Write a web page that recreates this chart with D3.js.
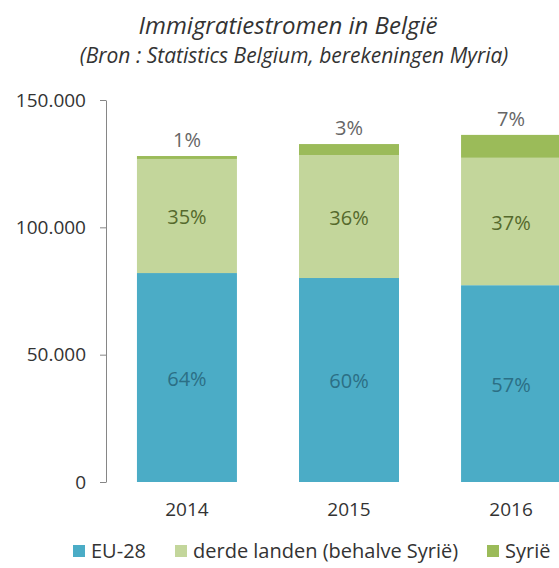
<!DOCTYPE html>
<html>
<head>
<meta charset="utf-8">
<script src="https://cdn.jsdelivr.net/npm/d3@7"></script>
<style>
  body { margin: 0; background: #fff; }
  svg { display: block; font-family: "Open Sans", sans-serif; }
</style>
</head>
<body>
<div id="chart"></div>
<script>
const years = ["2014", "2015", "2016"];
const eu28 = [82050, 80100, 77280];
const derdeLanden = [44800, 48200, 50020];
const syrie = [1150, 4400, 9000];
const yTicks = [0, 50000, 100000, 150000];

const seriesNames = ["EU-28", "derde landen (behalve Syrië)", "Syrië"];
const colors = ["#4bacc6", "#c3d69b", "#9bbb59"];
const labelColors = ["#2b6f85", "#55692c", "#666666"];

const width = 559;
const height = 568;
const marginTop = 100;
const marginBottom = 86;
const marginLeft = 106;

const rows = years.map((y, i) => ({year: y, eu: eu28[i], derde: derdeLanden[i], syrie: syrie[i]}));
const keys = ["eu", "derde", "syrie"];
const stacked = d3.stack().keys(keys)(rows);

const locale = d3.formatLocale({decimal: ",", thousands: ".", grouping: [3], currency: ["", ""]});
const fmt = locale.format(",d");
const pct = d3.format(".0%");

const svg = d3.select("#chart").append("svg")
    .attr("width", width)
    .attr("height", height);

const x = d3.scaleBand()
    .domain(years)
    .range([marginLeft, 592])
    .paddingInner(0.383)
    .paddingOuter(0.191);

const y = d3.scaleLinear()
    .domain([0, 150000])
    .range([height - marginBottom, marginTop]);

// title
svg.append("text")
    .attr("x", 288).attr("y", 34)
    .attr("text-anchor", "middle")
    .attr("font-style", "italic")
    .attr("font-size", 24)
    .attr("fill", "#333")
    .text("Immigratiestromen in België");

svg.append("text")
    .attr("x", 294).attr("y", 63)
    .attr("text-anchor", "middle")
    .attr("font-style", "italic")
    .attr("font-size", 21)
    .attr("fill", "#333")
    .text("(Bron : Statistics Belgium, berekeningen Myria)");

// bars
svg.append("g")
  .selectAll("g")
  .data(stacked)
  .join("g")
    .attr("fill", (d, i) => colors[i])
  .selectAll("rect")
  .data(d => d)
  .join("rect")
    .attr("x", d => x(d.data.year))
    .attr("y", d => y(d[1]))
    .attr("width", x.bandwidth())
    .attr("height", d => y(d[0]) - y(d[1]));

// percentage labels
stacked.forEach((s, si) => {
  svg.append("g")
      .attr("font-size", 20)
      .attr("fill", labelColors[si])
      .attr("text-anchor", "middle")
    .selectAll("text")
    .data(s)
    .join("text")
      .attr("x", d => x(d.data.year) + x.bandwidth() / 2)
      .attr("y", d => si === 2 ? y(d[1]) - 9 : (y(d[0]) + y(d[1])) / 2 + 8)
      .text(d => pct((d[1] - d[0]) / (d.data.eu + d.data.derde + d.data.syrie)));
});

// y axis
svg.append("g")
    .attr("transform", `translate(${marginLeft},0)`)
    .call(d3.axisLeft(y).tickValues(yTicks).tickFormat(fmt).tickSize(6).tickSizeOuter(0).tickPadding(14))
    .call(g => g.select(".domain").attr("stroke", "#868686"))
    .call(g => g.selectAll(".tick line").attr("stroke", "#868686"))
    .call(g => g.selectAll(".tick text")
        .attr("font-family", "Open Sans, sans-serif")
        .attr("font-size", 19)
        .attr("fill", "#333"));

// x axis labels
svg.append("g")
    .attr("transform", `translate(0,${height - marginBottom})`)
    .call(d3.axisBottom(x).tickSize(0).tickPadding(21))
    .call(g => g.select(".domain").remove())
    .call(g => g.selectAll(".tick text")
        .attr("font-family", "Open Sans, sans-serif")
        .attr("font-size", 19)
        .attr("fill", "#333"));

// legend
const legendX = [73, 175, 487];
const legend = svg.append("g")
  .selectAll("g")
  .data(seriesNames)
  .join("g")
    .attr("transform", (d, i) => `translate(${legendX[i]},545)`);

legend.append("rect")
    .attr("width", 12).attr("height", 12)
    .attr("fill", (d, i) => colors[i]);

legend.append("text")
    .attr("x", 18).attr("y", 13)
    .attr("font-size", 20)
    .attr("fill", "#333")
    .text(d => d);
</script>
</body>
</html>
